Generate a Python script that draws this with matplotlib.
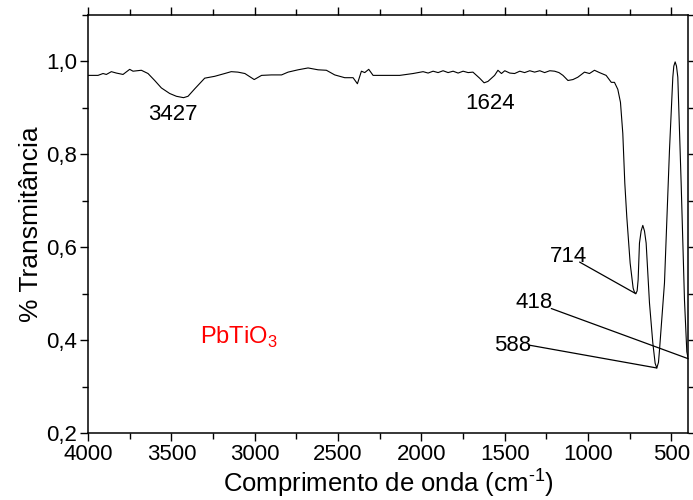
"""
FTIR spectrum of PbTiO3 powder.
"""

import matplotlib
matplotlib.use("Agg")

import matplotlib.pyplot as plt
from matplotlib.ticker import MultipleLocator, FixedLocator


plt.rcParams["font.family"] = ["Liberation Sans", "DejaVu Sans"]
plt.rcParams["mathtext.fontset"] = "custom"
plt.rcParams["mathtext.rm"] = "Liberation Sans"


wavenumber = [
    4000, 3940, 3910, 3890, 3860, 3830, 3790, 3750, 3730, 3680,
    3640, 3600, 3560, 3510, 3470, 3427, 3400, 3360, 3300, 3240,
    3180, 3141, 3101, 3059, 3003, 2959, 2900, 2839, 2800, 2740,
    2680, 2620, 2570, 2520, 2460, 2410, 2384, 2360, 2340, 2316,
    2290, 2220, 2130, 2050, 1990, 1960, 1930, 1900, 1870, 1840,
    1810, 1780, 1750, 1720, 1691, 1651, 1624, 1601, 1561, 1541,
    1520, 1500, 1470, 1441, 1410, 1381, 1350, 1321, 1290, 1261,
    1230, 1201, 1175, 1151, 1121, 1091, 1062, 1040, 1022, 992,
    962, 932, 892, 861, 842, 822, 806, 792, 780, 768,
    748, 730, 722, 714, 706, 700, 692, 682, 672, 662,
    652, 632, 612, 598, 588, 578, 572, 542, 512, 492,
    486, 478, 470, 462, 442, 422, 408, 400,
]

transmittance = [
    0.970, 0.970, 0.974, 0.972, 0.978, 0.975, 0.972, 0.983, 0.979, 0.981,
    0.974, 0.959, 0.943, 0.931, 0.925, 0.922, 0.925, 0.941, 0.964, 0.968,
    0.974, 0.978, 0.977, 0.974, 0.961, 0.970, 0.971, 0.971, 0.977, 0.982,
    0.986, 0.982, 0.981, 0.971, 0.965, 0.965, 0.952, 0.979, 0.976, 0.983,
    0.970, 0.970, 0.970, 0.974, 0.978, 0.975, 0.979, 0.976, 0.980, 0.976,
    0.979, 0.975, 0.979, 0.976, 0.977, 0.964, 0.954, 0.957, 0.970, 0.981,
    0.974, 0.980, 0.975, 0.974, 0.979, 0.976, 0.980, 0.977, 0.980, 0.976,
    0.980, 0.979, 0.976, 0.970, 0.959, 0.961, 0.966, 0.972, 0.977, 0.974,
    0.981, 0.976, 0.970, 0.955, 0.955, 0.940, 0.912, 0.845, 0.738, 0.665,
    0.566, 0.512, 0.503, 0.500, 0.506, 0.530, 0.609, 0.635, 0.647, 0.635,
    0.609, 0.480, 0.394, 0.350, 0.340, 0.352, 0.378, 0.523, 0.809, 0.966,
    0.990, 0.999, 0.990, 0.966, 0.738, 0.486, 0.375, 0.360,
]

y_ticks = [0.2, 0.4, 0.6, 0.8, 1.0]
y_tick_labels = ["0,2", "0,4", "0,6", "0,8", "1,0"]

# band labels: text, text position, start of leader line (None = no line)
bands = [
    ("3427", (3491, 0.886), None),
    ("1624", (1591, 0.910), None),
    ("714", (1117, 0.581), (1051, 0.568)),
    ("418", (1321, 0.480), (1221, 0.468)),
    ("588", (1453, 0.389), (1351, 0.389)),
]

FONT_SIZE = 16


def band_point(label):
    """
    Spectrum point a leader line should end at.
    """

    if label == "418":
        return wavenumber[-1], transmittance[-1]

    idx = wavenumber.index(int(label))

    return wavenumber[idx], transmittance[idx]


fig = plt.figure(figsize=(6.93, 5.00), dpi=100)

ax = fig.add_axes([0.127, 0.134, 0.866, 0.836])

ax.plot(
    wavenumber,
    transmittance,
    color="black",
    linewidth=0.8
)

ax.set_xlim(4000, 400)
ax.set_ylim(0.2, 1.1)

ax.xaxis.set_major_locator(MultipleLocator(500))
ax.xaxis.set_minor_locator(MultipleLocator(250))

ax.yaxis.set_major_locator(FixedLocator(y_ticks))
ax.set_yticklabels(y_tick_labels)
ax.yaxis.set_minor_locator(MultipleLocator(0.1))

ax.tick_params(
    which="both",
    direction="out",
    top=True,
    right=True,
    labelsize=FONT_SIZE,
    width=1.0,
    pad=2
)
ax.tick_params(which="major", length=6)
ax.tick_params(which="minor", length=4)

for spine in ax.spines.values():
    spine.set_linewidth(1.1)

ax.set_xlabel(
    r"Comprimento de onda (cm$^{\mathregular{\text{-}1}}$)",
    fontsize=18.5,
    labelpad=1
)
ax.set_ylabel(
    "% Transmitância",
    fontsize=19,
    labelpad=2
)

for label, text_pos, line_start in bands:

    ax.text(
        text_pos[0],
        text_pos[1],
        label,
        fontsize=FONT_SIZE,
        ha="center",
        va="center"
    )

    if line_start is not None:
        ax.annotate(
            "",
            xy=band_point(label),
            xytext=line_start,
            arrowprops=dict(
                arrowstyle="-",
                color="black",
                linewidth=0.9,
                shrinkA=0,
                shrinkB=0
            ),
            annotation_clip=False
        )

ax.text(
    3329,
    0.405,
    r"PbTiO$_\mathregular{3}$",
    color="red",
    fontsize=17,
    ha="left",
    va="center"
)

fig.savefig("out.png", dpi=100)
